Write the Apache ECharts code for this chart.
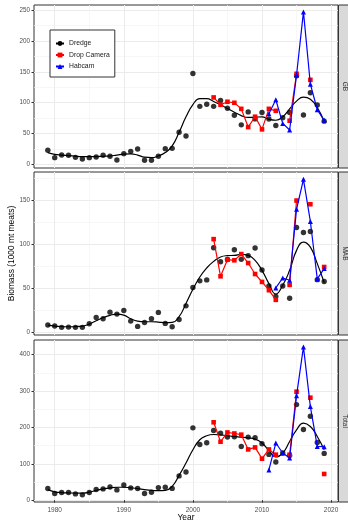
<!DOCTYPE html>
<html>
<head>
<meta charset="utf-8">
<script src="https://cdn.jsdelivr.net/npm/echarts@6/dist/echarts.min.js"></script>
<style>
html,body{margin:0;padding:0;background:#fff;}
#chart{width:348px;height:523px;}
</style>
</head>
<body>
<div id="chart"></div>
<script>
// ---------- data ----------
var years = [];
for (var y = 1979; y <= 2019; y++) years.push(y);
var dropYears = [2003,2004,2005,2006,2007,2008,2009,2010,2011,2012,2013,2014,2015,2016,2017,2018,2019];
var habYears = [2011,2012,2013,2014,2015,2016,2017,2018,2019];

var gbDredge = [22.7,10.8,15,14.6,11.3,8.6,10.8,11.9,14.6,13,
                7,17.3,21,24.8,6.5,6.5,13,25.4,25.9,52,
                45.9,147.4,94,97.5,94,103.5,91,79.6,64,85,
                73.7,84,73.4,63,75.5,84,143.5,79.9,116,96.3,70];
var gbSmooth = [19,16.2,15,14,13.2,12.6,12.4,12.6,13,13.5,
                15,16.5,17,15,11.5,10.8,13.5,19,30,52,
                77,97,106.5,106.5,102,96.5,90.5,84.5,79,76,
                76.5,77,73,71.5,77,90,102.5,109,105.5,92,69.5];
var gbDrop = [108.5,96.6,101.5,99.8,90,60.4,77.2,56.7,90,86.8,null,70.7,146.8,null,137,null,null];
var gbHab = [82,104.7,66.4,55.6,145,247.3,130,88.5,71.3];

var mabDredge = [8.3,7.2,5.7,6,5.7,5.7,9.8,17,15.5,23,
                 20.8,24.9,12.8,6.8,11.3,15.5,22.7,10.2,6.4,14.7,
                 30.2,51,58.6,59.7,96.3,80.3,83,94.1,83.1,87.3,
                 96,71,52.8,40.8,52.8,38.9,119.4,113.7,114.8,60,57.8];
var mabSmooth = [8.3,7.2,6.6,6.4,6.6,7.2,9.4,13.2,16.6,19.3,
                 20.8,19.6,15.5,12.8,12.1,12.1,11.7,11,11.3,17.8,
                 32.9,49,63,73.3,80.8,85.8,87.3,87.6,88.8,87.6,
                 82,70.6,55.5,43.5,53.6,70.6,93.3,102.8,97,78.2,56.7];
var mabDrop = [106.1,63.8,82.7,82,89.1,78.9,66.4,57.4,48,37,null,54,150,null,145.8,null,74.4];
var mabHab = [null,50.6,61.9,59.3,140.1,174.2,126.2,60.8,72.6];

var totDredge = [31.9,18.2,21,21,17.3,14.6,21,29.2,31,36.4,
                 28.2,41.9,33.7,31.9,18.2,21.9,34.6,35.5,32.3,66.7,
                 77.6,198.7,153,157.7,191.4,184.2,173.3,174,147.6,173.3,
                 171.4,155,125.8,105,129.6,123,262.5,194,230.7,158.6,128.5];
var totSmooth = [29,23,21,20,19.5,19.5,22,27,31,34,
                 35.5,35.5,34,32,29,27,26.5,27,38,68,
                 102,138.6,166,177,180.4,179.6,177,175,173.3,171.4,
                 167.8,157,136.7,118.6,129.6,161.3,193.3,211.6,202.3,175,138.6];
var totDrop = [214,160.5,186,183.2,180,139.4,145,114,139.4,125,null,125,298,null,281.6,null,72];
var totHab = [83,157,129.6,116,287,421,257,147.6,146.8];

var xTicks = [1980,1990,2000,2010,2020];
var xMinor = [1985,1995,2005,2015];
var panelNames = ['GB','MAB','Total'];
var yTicks = [[0,50,100,150,200,250],[0,50,100,150],[0,100,200,300,400]];
var yMinor = [[25,75,125,175,225],[25,75,125,175],[50,150,250,350]];
var yRange = [[-6,258.5],[-3,182.5],[-5,440]];

// ---------- layout ----------
var gridBoxes = [
  {left:34, top:5, width:304, height:163},
  {left:34, top:172, width:304, height:163},
  {left:34, top:340, width:304, height:162}
];

function pairs(xs, ys){
  return xs.map(function(x,i){ return [x, ys[i] == null ? '-' : ys[i]]; });
}

var panels = [
  {dredge:gbDredge, smooth:gbSmooth, drop:gbDrop, hab:gbHab},
  {dredge:mabDredge, smooth:mabSmooth, drop:mabDrop, hab:mabHab},
  {dredge:totDredge, smooth:totSmooth, drop:totDrop, hab:totHab}
];

var grids = [], xAxes = [], yAxes = [], series = [], graphics = [];
var labelColor = '#4d4d4d';
var majorColor = '#ebebeb', minorColor = '#f4f4f4';
var fontFam = 'Liberation Sans, Arial, sans-serif';
function plain(v){ return String(v); }

gridBoxes.forEach(function(g, i){
  grids.push({left:g.left, top:g.top, width:g.width, height:g.height,
    show:true, borderColor:'#333333', borderWidth:1, backgroundColor:'#ffffff', containLabel:false});
});

// main axes
for (var i = 0; i < 3; i++){
  var isBottom = (i === 2);
  xAxes.push({
    type:'value', gridIndex:i, min:1977, max:2021,
    axisLine:{show:false},
    axisTick:{show:isBottom, customValues:xTicks, length:2.5, lineStyle:{color:'#333', width:1}},
    axisLabel:{show:isBottom, customValues:xTicks, formatter:plain, fontSize:6.5, color:labelColor, margin:4.5, fontFamily:fontFam},
    splitLine:{show:true, lineStyle:{color:majorColor, width:1}}
  });
  yAxes.push({
    type:'value', gridIndex:i, min:yRange[i][0], max:yRange[i][1],
    axisLine:{show:false},
    axisTick:{show:true, customValues:yTicks[i], length:2.5, lineStyle:{color:'#333', width:1}},
    axisLabel:{show:true, customValues:yTicks[i], formatter:plain, fontSize:6.3, color:labelColor, margin:4, fontFamily:fontFam},
    splitLine:{show:true, lineStyle:{color:majorColor, width:1}}
  });
}
// minor gridline axes
for (var i = 0; i < 3; i++){
  xAxes.push({
    type:'value', gridIndex:i, min:1977, max:2021,
    axisLine:{show:false}, axisLabel:{show:false},
    axisTick:{show:false, customValues:xMinor},
    splitLine:{show:true, lineStyle:{color:minorColor, width:0.7}}
  });
  yAxes.push({
    type:'value', gridIndex:i, min:yRange[i][0], max:yRange[i][1],
    axisLine:{show:false}, axisLabel:{show:false},
    axisTick:{show:false, customValues:yMinor[i]},
    splitLine:{show:true, lineStyle:{color:minorColor, width:0.7}}
  });
}

panels.forEach(function(p, i){
  series.push({
    name:'Dredge obs', type:'scatter', xAxisIndex:i, yAxisIndex:i,
    data:pairs(years, p.dredge), symbol:'circle', symbolSize:5.4,
    itemStyle:{color:'#000000'}, z:2
  });
  series.push({
    name:'Dredge', type:'line', xAxisIndex:i, yAxisIndex:i,
    data:pairs(years, p.smooth), smooth:0.5, symbol:'circle', symbolSize:5, showSymbol:false,
    itemStyle:{color:'#000000'}, lineStyle:{color:'#000000', width:1.2}, z:3
  });
  series.push({
    name:'Drop Camera', type:'line', xAxisIndex:i, yAxisIndex:i,
    data:pairs(dropYears, p.drop), symbol:'rect', symbolSize:4.6, showSymbol:true, showAllSymbol:true,
    connectNulls:false,
    itemStyle:{color:'#ff0000'}, lineStyle:{color:'#ff0000', width:1.2}, z:4
  });
  series.push({
    name:'Habcam', type:'line', xAxisIndex:i, yAxisIndex:i,
    data:pairs(habYears, p.hab), symbol:'triangle', symbolSize:5, showSymbol:true, showAllSymbol:true,
    connectNulls:false,
    itemStyle:{color:'#0000ff'}, lineStyle:{color:'#0000ff', width:1.2}, z:5
  });
});

// strips
gridBoxes.forEach(function(g, i){
  graphics.push({
    type:'rect', shape:{x:g.left + g.width + 0.5, y:g.top, width:14, height:g.height},
    style:{fill:'#d9d9d9', stroke:'#333333', lineWidth:1}, z:10
  });
  graphics.push({
    type:'text', x:g.left + g.width + 6.5, y:g.top + g.height/2, rotation:-Math.PI/2,
    style:{text:panelNames[i], fill:'#333333', fontSize:6.5, fontFamily:fontFam,
      align:'center', verticalAlign:'middle'}, z:11
  });
});
// axis titles
graphics.push({
  type:'text', x:12, y:253.5, rotation:Math.PI/2,
  style:{text:'Biomass (1000 mt meats)', fill:'#000000', fontSize:8.4, fontFamily:fontFam,
    align:'center', verticalAlign:'middle'}, z:11
});
graphics.push({
  type:'text', x:186, y:517.5,
  style:{text:'Year', fill:'#000000', fontSize:8.4, fontFamily:fontFam,
    align:'center', verticalAlign:'middle'}, z:11
});

var option = {
  animation:false,
  backgroundColor:'#ffffff',
  grid:grids,
  xAxis:xAxes,
  yAxis:yAxes,
  series:series,
  graphic:graphics,
  legend:{
    data:['Dredge','Drop Camera','Habcam'],
    orient:'vertical', left:50, top:30,
    padding:[10,5,7,5], itemGap:4.5, itemWidth:8, itemHeight:6,
    borderColor:'#333333', borderWidth:1, backgroundColor:'#ffffff',
    selectedMode:false,
    textStyle:{fontSize:6.8, color:'#1a1a1a', fontFamily:fontFam}
  }
};

var chart = echarts.init(document.getElementById('chart'), null, {renderer:'canvas'});
chart.setOption(option);
</script>
</body>
</html>
